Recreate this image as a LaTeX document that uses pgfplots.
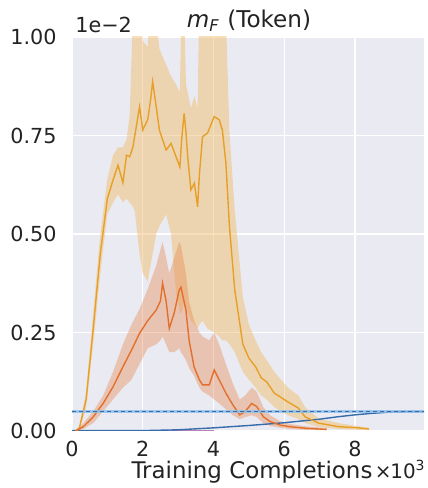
\documentclass[border=0pt]{standalone}
\usepackage{fontspec}
\setmainfont{DejaVu Sans}
\usepackage{pgfplots}
\pgfplotsset{compat=1.18}
\usepackage{pgfplotstable}
\usepgfplotslibrary{fillbetween}
\usetikzlibrary{calc}

\definecolor{bgc}{RGB}{234,234,242}
\definecolor{goldline}{RGB}{230,160,40}
\definecolor{goldband}{RGB}{242,186,100}
\definecolor{redline}{RGB}{226,112,45}
\definecolor{redband}{RGB}{232,132,76}
\definecolor{blueline}{RGB}{55,108,172}
\definecolor{bluelight}{RGB}{140,190,232}
\definecolor{purpline}{RGB}{150,80,150}
\definecolor{txt}{RGB}{35,35,35}

% x mean lo hi
\pgfplotstableread{
x     m      lo    hi
0.10  0.000  0.000 0.003
0.20  0.004  0.000 0.010
0.40  0.080  0.060 0.100
0.60  0.260  0.220 0.300
0.80  0.450  0.400 0.500
1.00  0.590  0.550 0.640
1.16  0.637  0.580 0.700
1.30  0.675  0.600 0.720
1.44  0.630  0.580 0.720
1.54  0.700  0.590 0.740
1.63  0.696  0.580 0.800
1.72  0.720  0.570 1.050
1.77  0.747  0.560 1.100
1.91  0.823  0.450 1.100
2.00  0.764  0.400 0.990
2.14  0.790  0.380 0.975
2.22  0.840  0.420 1.100
2.28  0.887  0.450 1.100
2.38  0.823  0.500 1.050
2.47  0.764  0.520 0.970
2.66  0.713  0.550 0.930
2.80  0.730  0.500 0.900
2.94  0.696  0.350 0.880
3.05  0.670  0.300 0.860
3.10  0.740  0.300 1.100
3.17  0.806  0.330 1.100
3.22  0.760  0.310 0.880
3.27  0.696  0.300 0.860
3.36  0.612  0.280 0.820
3.46  0.629  0.270 0.850
3.55  0.569  0.260 0.820
3.60  0.650  0.270 1.100
3.69  0.747  0.280 1.100
3.83  0.756  0.260 1.100
4.02  0.798  0.250 1.100
4.16  0.790  0.240 1.100
4.25  0.764  0.230 1.100
4.35  0.680  0.230 1.050
4.45  0.520  0.220 0.760
4.60  0.358  0.200 0.560
4.83  0.220  0.150 0.340
5.00  0.185  0.130 0.270
5.19  0.163  0.110 0.230
5.35  0.135  0.090 0.200
5.50  0.125  0.080 0.180
5.72  0.096  0.060 0.150
6.10  0.074  0.040 0.110
6.40  0.058  0.030 0.090
6.59  0.036  0.020 0.060
6.97  0.020  0.010 0.032
7.53  0.011  0.005 0.020
8.10  0.008  0.003 0.012
8.40  0.005  0.002 0.008
}\goldtab

\pgfplotstableread{
x     m      lo    hi
0.10  0.000  0.000 0.003
0.32  0.011  0.005 0.020
0.60  0.036  0.020 0.050
0.88  0.070  0.050 0.090
1.16  0.112  0.080 0.150
1.44  0.163  0.110 0.220
1.68  0.205  0.130 0.270
1.91  0.248  0.170 0.310
2.14  0.280  0.210 0.360
2.38  0.307  0.220 0.420
2.50  0.330  0.230 0.460
2.56  0.375  0.240 0.480
2.66  0.330  0.220 0.440
2.75  0.260  0.200 0.400
2.89  0.300  0.200 0.440
3.03  0.358  0.210 0.480
3.08  0.365  0.200 0.470
3.22  0.307  0.180 0.400
3.31  0.230  0.160 0.330
3.45  0.163  0.140 0.280
3.60  0.130  0.110 0.250
3.69  0.117  0.100 0.240
3.88  0.117  0.090 0.230
4.02  0.155  0.080 0.250
4.16  0.130  0.070 0.220
4.35  0.096  0.055 0.170
4.55  0.066  0.040 0.120
4.74  0.041  0.030 0.080
4.89  0.049  0.035 0.090
5.08  0.070  0.040 0.110
5.22  0.062  0.035 0.100
5.41  0.036  0.020 0.060
5.60  0.024  0.013 0.040
5.88  0.015  0.008 0.025
6.15  0.011  0.005 0.018
6.60  0.007  0.003 0.012
7.20  0.004  0.002 0.007
}\redtab

\pgfplotstableread{
x    m
0.0  0.001
2.0  0.001
3.0  0.003
4.0  0.008
5.0  0.014
6.0  0.021
7.0  0.030
7.5  0.036
8.0  0.041
8.5  0.045
9.0  0.048
9.5  0.049
9.95 0.049
}\bluetab

\begin{document}
\begin{tikzpicture}
\begin{axis}[
  scale only axis,
  width=176bp, height=197bp,
  xmin=0, xmax=9.95, ymin=0, ymax=1,
  xtick={0,2,4,6,8},
  ytick={0,0.25,0.5,0.75,1},
  scaled y ticks=false,
  scaled x ticks=false,
  yticklabel style={/pgf/number format/fixed, /pgf/number format/fixed zerofill, /pgf/number format/precision=2, /pgf/number format/assume math mode=true, anchor=east, inner sep=0pt, xshift=-7.5bp},
  xticklabel style={/pgf/number format/assume math mode=true, anchor=north, inner sep=0pt, yshift=-5bp},
  tick label style={font=\fontsize{10.4}{12}\selectfont, text=txt},
  major tick length=0pt,
  tick style={draw=none},
  axis line style={draw=none},
  axis background/.style={fill=bgc},
  grid=major,
  major grid style={white, line width=0.7bp},
  clip=true,
]
% gold band
\addplot[draw=none, name path=gU, forget plot] table[x=x,y=hi]{\goldtab};
\addplot[draw=none, name path=gL, forget plot] table[x=x,y=lo]{\goldtab};
\addplot[goldband, fill opacity=0.45, draw=none, forget plot] fill between[of=gU and gL];
% red band
\addplot[draw=none, name path=rU, forget plot] table[x=x,y=hi]{\redtab};
\addplot[draw=none, name path=rL, forget plot] table[x=x,y=lo]{\redtab};
\addplot[redband, fill opacity=0.38, draw=none, forget plot] fill between[of=rU and rL];
% lines
\addplot[purpline, line width=0.5bp, mark=none, opacity=0.7] coordinates {(0.15,0.001) (4.0,0.001)};
\addplot[blueline, line width=0.7bp, mark=none] table[x=x,y=m]{\bluetab};
\addplot[goldline, line width=0.7bp, mark=none] table[x=x,y=m]{\goldtab};
\addplot[redline, line width=0.7bp, mark=none] table[x=x,y=m]{\redtab};
\addplot[bluelight, line width=1.3bp, mark=none, opacity=0.8] coordinates {(0,0.049) (9.95,0.049)};
\addplot[blueline, line width=0.8bp, dash pattern=on 2.2bp off 1.3bp, mark=none] coordinates {(0,0.049) (9.95,0.049)};

\path (rel axis cs:0,0) coordinate (BL) (rel axis cs:1,1) coordinate (TR);
\end{axis}
\coordinate (TL) at (BL|-TR);
\coordinate (BR) at (BL-|TR);
\node[anchor=base, inner sep=0pt, text=txt, font=\fontsize{11.6}{13}\selectfont] at ($(TL)!0.5!(TR)+(0.5bp,4.5bp)$) {\textit{m}\textsubscript{\textit{F}} (Token)};
\node[anchor=base west, inner sep=0pt, text=txt, font=\fontsize{10.4}{12}\selectfont] at ($(TL)+(1.5bp,2bp)$) {1e−2};
\node[anchor=base, inner sep=0pt, text=txt, font=\fontsize{11.5}{13}\selectfont] at ($(BL)!0.5!(BR)+(2bp,-23.5bp)$) {Training Completions};
\node[anchor=base east, inner sep=0pt, text=txt, font=\fontsize{10}{12}\selectfont] at ($(BR)+(1bp,-23.5bp)$) {×\kern-0.6bp10\textsuperscript{3}};
\path ($(BL)+(-36bp,-28.5bp)$) rectangle ($(TR)+(2bp,18.5bp)$);
\end{tikzpicture}
\end{document}
